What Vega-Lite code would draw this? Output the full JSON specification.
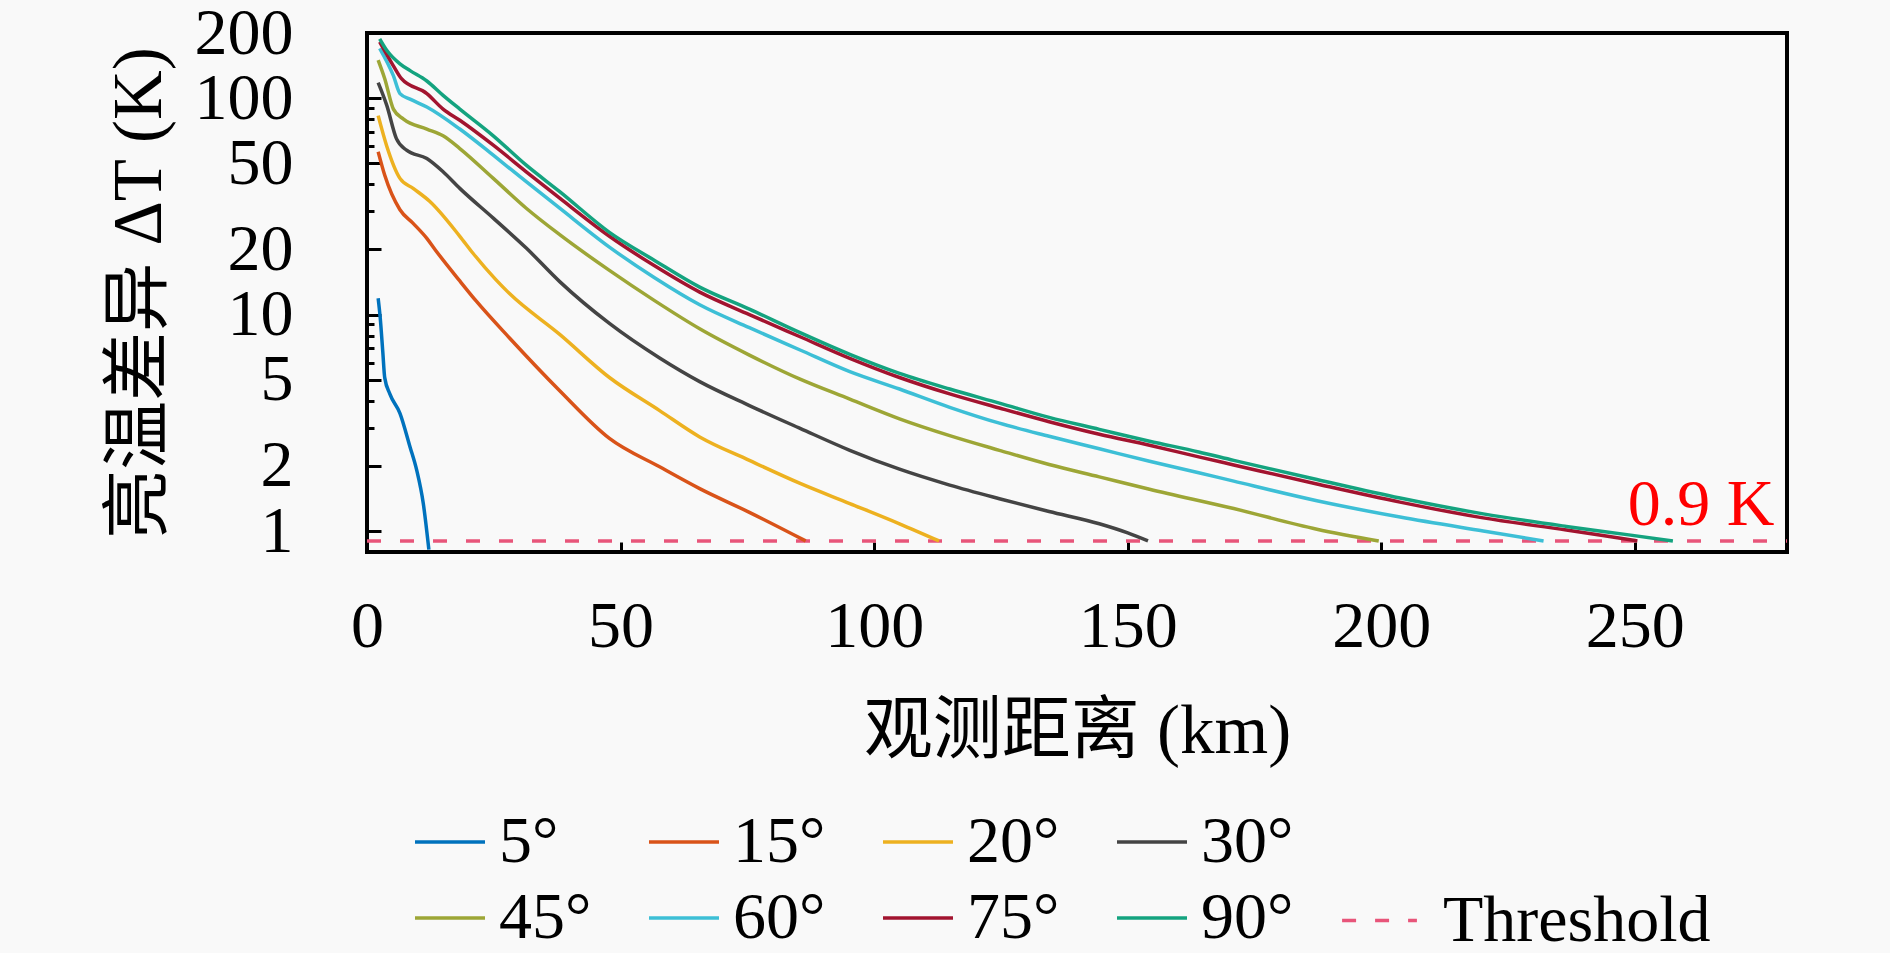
{
  "$schema": "https://vega.github.io/schema/vega-lite/v6.json",
  "autosize": {"type": "none"},
  "width": 1420,
  "height": 519,
  "padding": {"left": 367, "top": 33, "right": 103, "bottom": 401},
  "background": "#F9F9F9",
  "datasets": {
    "curves": [
      {"angle": "5°", "d": 2.2, "dT": 11.9},
      {"angle": "5°", "d": 2.6, "dT": 9.7},
      {"angle": "5°", "d": 3.1, "dT": 6.8},
      {"angle": "5°", "d": 3.5, "dT": 5.1},
      {"angle": "5°", "d": 4.5, "dT": 4.3},
      {"angle": "5°", "d": 6.5, "dT": 3.5},
      {"angle": "5°", "d": 8.5, "dT": 2.44},
      {"angle": "5°", "d": 9.8, "dT": 1.91},
      {"angle": "5°", "d": 11.1, "dT": 1.34},
      {"angle": "5°", "d": 12.2, "dT": 0.82},

      {"angle": "15°", "d": 2.2, "dT": 56.5},
      {"angle": "15°", "d": 3.5, "dT": 44},
      {"angle": "15°", "d": 6.5, "dT": 30.5},
      {"angle": "15°", "d": 9.1, "dT": 26.4},
      {"angle": "15°", "d": 11.8, "dT": 22.5},
      {"angle": "15°", "d": 13.4, "dT": 20},
      {"angle": "15°", "d": 18.3, "dT": 14.3},
      {"angle": "15°", "d": 21.6, "dT": 11.5},
      {"angle": "15°", "d": 28.1, "dT": 7.8},
      {"angle": "15°", "d": 38, "dT": 4.45},
      {"angle": "15°", "d": 47.8, "dT": 2.68},
      {"angle": "15°", "d": 57.7, "dT": 1.98},
      {"angle": "15°", "d": 65.6, "dT": 1.57},
      {"angle": "15°", "d": 75.4, "dT": 1.22},
      {"angle": "15°", "d": 86.5, "dT": 0.9},

      {"angle": "20°", "d": 2.2, "dT": 83},
      {"angle": "20°", "d": 3.9, "dT": 60},
      {"angle": "20°", "d": 6.5, "dT": 42.6},
      {"angle": "20°", "d": 9.1, "dT": 38.3},
      {"angle": "20°", "d": 12.4, "dT": 33.3},
      {"angle": "20°", "d": 18.3, "dT": 23},
      {"angle": "20°", "d": 20.9, "dT": 19.2},
      {"angle": "20°", "d": 25.4, "dT": 14.5},
      {"angle": "20°", "d": 28.1, "dT": 12.5},
      {"angle": "20°", "d": 38, "dT": 8.1},
      {"angle": "20°", "d": 47.8, "dT": 5.12},
      {"angle": "20°", "d": 57.7, "dT": 3.6},
      {"angle": "20°", "d": 65.6, "dT": 2.72},
      {"angle": "20°", "d": 75.4, "dT": 2.12},
      {"angle": "20°", "d": 85.4, "dT": 1.66},
      {"angle": "20°", "d": 95.2, "dT": 1.34},
      {"angle": "20°", "d": 105, "dT": 1.08},
      {"angle": "20°", "d": 112.8, "dT": 0.9},

      {"angle": "30°", "d": 2.2, "dT": 118},
      {"angle": "30°", "d": 3.9, "dT": 92.6},
      {"angle": "30°", "d": 5.8, "dT": 65},
      {"angle": "30°", "d": 7.8, "dT": 57.5},
      {"angle": "30°", "d": 11.8, "dT": 52.6},
      {"angle": "30°", "d": 15, "dT": 45.7},
      {"angle": "30°", "d": 18.3, "dT": 38.3},
      {"angle": "30°", "d": 24.9, "dT": 27.9},
      {"angle": "30°", "d": 31.4, "dT": 20.3},
      {"angle": "30°", "d": 38, "dT": 14.2},
      {"angle": "30°", "d": 47.8, "dT": 9.1},
      {"angle": "30°", "d": 57.7, "dT": 6.3},
      {"angle": "30°", "d": 65.6, "dT": 4.9},
      {"angle": "30°", "d": 75.4, "dT": 3.8},
      {"angle": "30°", "d": 85.4, "dT": 2.98},
      {"angle": "30°", "d": 95.2, "dT": 2.36},
      {"angle": "30°", "d": 105, "dT": 1.93},
      {"angle": "30°", "d": 114.9, "dT": 1.63},
      {"angle": "30°", "d": 124.7, "dT": 1.41},
      {"angle": "30°", "d": 134.5, "dT": 1.23},
      {"angle": "30°", "d": 144.4, "dT": 1.08},
      {"angle": "30°", "d": 150, "dT": 0.98},
      {"angle": "30°", "d": 154, "dT": 0.9},

      {"angle": "45°", "d": 2.2, "dT": 150},
      {"angle": "45°", "d": 3.5, "dT": 123},
      {"angle": "45°", "d": 5.2, "dT": 89},
      {"angle": "45°", "d": 7.2, "dT": 80},
      {"angle": "45°", "d": 11.8, "dT": 72},
      {"angle": "45°", "d": 15, "dT": 67},
      {"angle": "45°", "d": 18.3, "dT": 58.5},
      {"angle": "45°", "d": 24.9, "dT": 42.6},
      {"angle": "45°", "d": 31.4, "dT": 31},
      {"angle": "45°", "d": 38, "dT": 23.4},
      {"angle": "45°", "d": 47.8, "dT": 16},
      {"angle": "45°", "d": 56.7, "dT": 11.6},
      {"angle": "45°", "d": 65.6, "dT": 8.6},
      {"angle": "45°", "d": 75.4, "dT": 6.5},
      {"angle": "45°", "d": 85.4, "dT": 5.03},
      {"angle": "45°", "d": 95.2, "dT": 4.07},
      {"angle": "45°", "d": 105, "dT": 3.3},
      {"angle": "45°", "d": 114.9, "dT": 2.76},
      {"angle": "45°", "d": 124.7, "dT": 2.36},
      {"angle": "45°", "d": 134.5, "dT": 2.03},
      {"angle": "45°", "d": 144.4, "dT": 1.78},
      {"angle": "45°", "d": 154.3, "dT": 1.56},
      {"angle": "45°", "d": 170.9, "dT": 1.27},
      {"angle": "45°", "d": 187.3, "dT": 1.02},
      {"angle": "45°", "d": 199.5, "dT": 0.9},

      {"angle": "60°", "d": 2.5, "dT": 170},
      {"angle": "60°", "d": 5.2, "dT": 127},
      {"angle": "60°", "d": 6.5, "dT": 105},
      {"angle": "60°", "d": 8.5, "dT": 99},
      {"angle": "60°", "d": 11.8, "dT": 91},
      {"angle": "60°", "d": 18.3, "dT": 72},
      {"angle": "60°", "d": 24.9, "dT": 54.5},
      {"angle": "60°", "d": 31.4, "dT": 41.1},
      {"angle": "60°", "d": 38, "dT": 31},
      {"angle": "60°", "d": 47.8, "dT": 20.5},
      {"angle": "60°", "d": 56.7, "dT": 14.8},
      {"angle": "60°", "d": 65.6, "dT": 11.1},
      {"angle": "60°", "d": 75.4, "dT": 8.7},
      {"angle": "60°", "d": 85.4, "dT": 6.86},
      {"angle": "60°", "d": 95.2, "dT": 5.45},
      {"angle": "60°", "d": 105, "dT": 4.53},
      {"angle": "60°", "d": 114.9, "dT": 3.73},
      {"angle": "60°", "d": 124.7, "dT": 3.15},
      {"angle": "60°", "d": 134.5, "dT": 2.74},
      {"angle": "60°", "d": 144.4, "dT": 2.4},
      {"angle": "60°", "d": 154.3, "dT": 2.1},
      {"angle": "60°", "d": 164, "dT": 1.86},
      {"angle": "60°", "d": 170.9, "dT": 1.7},
      {"angle": "60°", "d": 187.3, "dT": 1.38},
      {"angle": "60°", "d": 203.7, "dT": 1.16},
      {"angle": "60°", "d": 220.1, "dT": 1.0},
      {"angle": "60°", "d": 232, "dT": 0.9},

      {"angle": "75°", "d": 2.5, "dT": 182},
      {"angle": "75°", "d": 5.2, "dT": 141},
      {"angle": "75°", "d": 6.8, "dT": 123},
      {"angle": "75°", "d": 11.8, "dT": 105},
      {"angle": "75°", "d": 15, "dT": 89},
      {"angle": "75°", "d": 18.3, "dT": 79},
      {"angle": "75°", "d": 24.9, "dT": 60.6},
      {"angle": "75°", "d": 31.4, "dT": 45.7},
      {"angle": "75°", "d": 38, "dT": 34.5},
      {"angle": "75°", "d": 47.8, "dT": 23},
      {"angle": "75°", "d": 56.7, "dT": 16.8},
      {"angle": "75°", "d": 65.6, "dT": 12.7},
      {"angle": "75°", "d": 75.4, "dT": 10},
      {"angle": "75°", "d": 85.4, "dT": 7.9},
      {"angle": "75°", "d": 95.2, "dT": 6.28},
      {"angle": "75°", "d": 105, "dT": 5.12},
      {"angle": "75°", "d": 114.9, "dT": 4.3},
      {"angle": "75°", "d": 124.7, "dT": 3.7},
      {"angle": "75°", "d": 134.5, "dT": 3.2},
      {"angle": "75°", "d": 144.4, "dT": 2.8},
      {"angle": "75°", "d": 154.3, "dT": 2.49},
      {"angle": "75°", "d": 164, "dT": 2.2},
      {"angle": "75°", "d": 170.9, "dT": 2.02},
      {"angle": "75°", "d": 187.3, "dT": 1.65},
      {"angle": "75°", "d": 203.7, "dT": 1.36},
      {"angle": "75°", "d": 220.1, "dT": 1.15},
      {"angle": "75°", "d": 236.5, "dT": 1.01},
      {"angle": "75°", "d": 244, "dT": 0.95},
      {"angle": "75°", "d": 250.5, "dT": 0.9},

      {"angle": "90°", "d": 2.5, "dT": 188},
      {"angle": "90°", "d": 4, "dT": 165},
      {"angle": "90°", "d": 6.5, "dT": 144},
      {"angle": "90°", "d": 8.5, "dT": 134},
      {"angle": "90°", "d": 11.8, "dT": 120},
      {"angle": "90°", "d": 15, "dT": 103},
      {"angle": "90°", "d": 18.3, "dT": 89},
      {"angle": "90°", "d": 24.9, "dT": 67},
      {"angle": "90°", "d": 31.4, "dT": 49},
      {"angle": "90°", "d": 38, "dT": 37},
      {"angle": "90°", "d": 47.8, "dT": 24},
      {"angle": "90°", "d": 56.7, "dT": 17.8},
      {"angle": "90°", "d": 65.6, "dT": 13.4},
      {"angle": "90°", "d": 75.4, "dT": 10.6},
      {"angle": "90°", "d": 85.4, "dT": 8.25},
      {"angle": "90°", "d": 95.2, "dT": 6.55},
      {"angle": "90°", "d": 105, "dT": 5.35},
      {"angle": "90°", "d": 114.9, "dT": 4.53},
      {"angle": "90°", "d": 124.7, "dT": 3.9},
      {"angle": "90°", "d": 134.5, "dT": 3.35},
      {"angle": "90°", "d": 144.4, "dT": 2.95},
      {"angle": "90°", "d": 154.3, "dT": 2.6},
      {"angle": "90°", "d": 164, "dT": 2.32},
      {"angle": "90°", "d": 170.9, "dT": 2.12},
      {"angle": "90°", "d": 187.3, "dT": 1.73},
      {"angle": "90°", "d": 203.7, "dT": 1.42},
      {"angle": "90°", "d": 220.1, "dT": 1.2},
      {"angle": "90°", "d": 236.5, "dT": 1.05},
      {"angle": "90°", "d": 248.8, "dT": 0.96},
      {"angle": "90°", "d": 257.5, "dT": 0.9}
    ],
    "threshold": [
      {"name": "Threshold", "d": 0, "dT": 0.9},
      {"name": "Threshold", "d": 280, "dT": 0.9}
    ],
    "note": [
      {"d": 277.5, "dT": 1.07, "label": "0.9 K"}
    ]
  },
  "resolve": {"axis": {"y": "independent"}},
  "layer": [
    {
      "data": {"name": "threshold"},
      "mark": {"type": "line", "color": "#E8557A", "strokeWidth": 3.5},
      "encoding": {
        "x": {"field": "d", "type": "quantitative"},
        "y": {
          "field": "dT",
          "type": "quantitative",
          "scale": {"type": "log", "domain": [0.8, 200], "nice": false},
          "axis": {
            "orient": "left",
            "title": null,
            "labels": false,
            "values": [3, 4, 6, 7, 8, 9, 30, 40, 60, 70, 80, 90],
            "tickSize": -7
          }
        },
        "strokeDash": {
          "field": "name",
          "type": "nominal",
          "scale": {"range": [[14, 19]]},
          "legend": {
            "title": null,
            "orient": "none",
            "legendX": 973,
            "legendY": 848,
            "symbolType": "stroke",
            "symbolSize": 5600,
            "symbolStrokeWidth": 3.5,
            "symbolStrokeColor": "#E8557A",
            "symbolDash": [14, 11],
            "labelOffset": 24
          }
        }
      }
    },
    {
      "data": {"name": "curves"},
      "mark": {"type": "line", "strokeWidth": 3.5, "interpolate": "monotone"},
      "encoding": {
        "x": {
          "field": "d",
          "type": "quantitative",
          "scale": {"domain": [0, 280], "nice": false},
          "axis": {
            "title": "观测距离 (km)",
            "values": [0, 50, 100, 150, 200, 250],
            "tickSize": -10,
            "labelPadding": 52,
            "titlePadding": 38
          }
        },
        "y": {
          "field": "dT",
          "type": "quantitative",
          "scale": {"type": "log", "domain": [0.8, 200], "nice": false},
          "axis": {
            "orient": "left",
            "title": "亮温差异 ΔT (K)",
            "values": [1, 2, 5, 10, 20, 50, 100, 200],
            "format": "d",
            "tickSize": -14,
            "labelPadding": 88,
            "titlePadding": 20
          }
        },
        "color": {
          "field": "angle",
          "type": "nominal",
          "sort": ["5°", "15°", "20°", "30°", "45°", "60°", "75°", "90°"],
          "scale": {
            "domain": ["5°", "15°", "20°", "30°", "45°", "60°", "75°", "90°"],
            "range": ["#0072BD", "#D95319", "#EDB120", "#444444", "#9DA636", "#3DBFD6", "#A2142F", "#14A37F"]
          },
          "legend": {
            "title": null,
            "orient": "none",
            "direction": "horizontal",
            "legendX": 46,
            "legendY": 772,
            "columns": 4,
            "columnPadding": 50,
            "rowPadding": 6,
            "symbolType": "stroke",
            "symbolSize": 4900,
            "symbolStrokeWidth": 3.5,
            "labelOffset": 12
          }
        }
      }
    },
    {
      "data": {"name": "note"},
      "mark": {"type": "text", "color": "#FF0000", "align": "right", "baseline": "alphabetic", "fontSize": 66},
      "encoding": {
        "x": {"field": "d", "type": "quantitative"},
        "y": {"field": "dT", "type": "quantitative", "axis": null},
        "text": {"field": "label"}
      }
    }
  ],
  "config": {
    "font": "Liberation Serif, Noto Sans CJK SC",
    "view": {"stroke": "black", "strokeWidth": 4},
    "axis": {
      "domain": false,
      "grid": false,
      "labelFont": "Liberation Serif, Noto Sans CJK SC",
      "labelFontSize": 66,
      "labelColor": "black",
      "labelFlush": false,
      "labelOverlap": false,
      "tickColor": "black",
      "tickWidth": 3,
      "titleFont": "Liberation Serif, Noto Sans CJK SC",
      "titleFontSize": 69,
      "titleFontWeight": "normal",
      "titleColor": "black"
    },
    "legend": {
      "labelFont": "Liberation Serif, Noto Sans CJK SC",
      "labelFontSize": 66,
      "labelColor": "black",
      "labelLimit": 400
    }
  }
}
